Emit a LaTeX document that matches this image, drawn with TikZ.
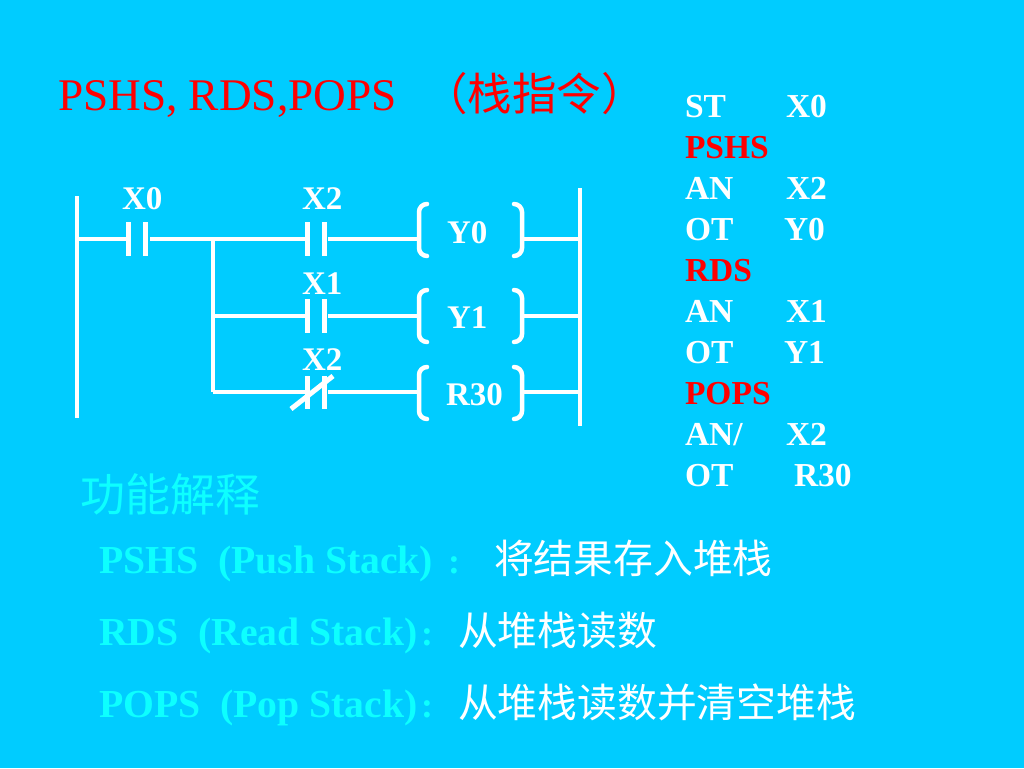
\documentclass[tikz,border=0pt]{standalone}
\usepackage{fontspec}
\setmainfont{Liberation Serif}
\newfontfamily\cjk{Noto Sans CJK SC}
\definecolor{bgblue}{HTML}{00CCFF}
\definecolor{lightcyan}{HTML}{0DFFFF}
\definecolor{wirewhite}{HTML}{FFFFFF}
\tikzset{
  txt/.style={anchor=base west,inner sep=0pt,outer sep=0pt},
  title/.style={txt,text=red,font=\fontsize{45.3}{45.3}\selectfont},
  titlecjk/.style={txt,text=red,font=\cjk\fontsize{44.5}{44.5}\selectfont},
  lab/.style={txt,text=white,font=\bfseries\fontsize{33}{33}\selectfont},
  code/.style={txt,text=white,font=\bfseries\fontsize{33.5}{33.5}\selectfont},
  codered/.style={code,text=red},
  expl/.style={txt,text=lightcyan,font=\bfseries\fontsize{39.7}{39.7}\selectfont},
  explcolon/.style={anchor=base,inner sep=0pt,text=lightcyan,font=\bfseries\fontsize{36}{36}\selectfont},
  zh/.style={txt,text=white,font=\cjk\fontsize{39.8}{39.8}\selectfont},
  zhhead/.style={txt,text=lightcyan,font=\cjk\fontsize{45}{45}\selectfont},
  wire/.style={draw=wirewhite,line width=4.5pt},
  plate/.style={draw=wirewhite,line width=5pt},
  rail/.style={draw=wirewhite,line width=4.5pt},
  coil/.style={draw=wirewhite,line width=4.5pt,rounded corners=8pt,line cap=round},
}
\begin{document}
\begin{tikzpicture}[x=1pt,y=-1pt]
\useasboundingbox (0,0) rectangle (1024,768);
\fill[bgblue] (0,0) rectangle (1024,768);

% texts
\node[title] (t1) at (58,110) {PSHS, RDS,POPS};
\node[titlecjk] (t2) at (423,110) {（栈指令）};

\node[lab] (lx0) at (122,209) {X0};
\node[lab] (lx2a) at (302,209) {X2};
\node[lab] (lx1) at (302,294) {X1};
\node[lab] (lx2b) at (302,370) {X2};
\node[lab] (ly0) at (447,243) {Y0};
\node[lab] (ly1) at (447,328) {Y1};
\node[lab] (lr30) at (446,405) {R30};

% code listing
\node[code] (c1a) at (685,117) {ST};   \node[code] (c1b) at (786,117) {X0};
\node[codered] (c2a) at (685,158) {PSHS};
\node[code] (c3a) at (685,199) {AN};   \node[code] (c3b) at (786,199) {X2};
\node[code] (c4a) at (685,240) {OT};   \node[code] (c4b) at (784,240) {Y0};
\node[codered] (c5a) at (685,281) {RDS};
\node[code] (c6a) at (685,322) {AN};   \node[code] (c6b) at (786,322) {X1};
\node[code] (c7a) at (685,363) {OT};   \node[code] (c7b) at (784,363) {Y1};
\node[codered] (c8a) at (685,404) {POPS};
\node[code] (c9a) at (685,445) {AN/};  \node[code] (c9b) at (786,445) {X2};
\node[code] (c10a) at (685,486) {OT};  \node[code] (c10b) at (794,486) {R30};

% explanation
\node[zhhead] (h) at (80,511) {功能解释};
\node[expl] (e1) at (99,573) {PSHS\ \ (Push Stack)};
\node[explcolon] (e1c) at (454,573) {:};
\node[zh] (z1) at (494,573) {将结果存入堆栈};
\node[expl] (e2) at (99,645) {RDS\ \ (Read Stack)};
\node[explcolon] (e2c) at (427,645) {:};
\node[zh] (z2) at (458,645) {从堆栈读数};
\node[expl] (e3) at (99,717) {POPS\ \ (Pop Stack)};
\node[explcolon] (e3c) at (427,717) {:};
\node[zh] (z3) at (458,717) {从堆栈读数并清空堆栈};

% rails
\coordinate (lt) at (77,196);  \coordinate (lb) at (77,418);
\coordinate (rt) at (580,188); \coordinate (rb) at (580,426);
\draw[rail] (lt) -- (lb);
\draw[rail] (rt) -- (rb);

% rung anchor points
\coordinate (l1) at (77,239);
\coordinate (j1) at (213,239);
\coordinate (j2) at (213,316);
\coordinate (j3) at (213,392);
\coordinate (r1) at (580,239);
\coordinate (r2) at (580,316);
\coordinate (r3) at (580,392);

% contacts
\coordinate (ax0t) at (128,222); \coordinate (ax0b) at (128,256);
\coordinate (bx0t) at (145,222); \coordinate (bx0b) at (145,256);
\coordinate (ax0w) at (128,239); \coordinate (bx0w) at (150,239);
\coordinate (a1t) at (307,222); \coordinate (a1b) at (307,256);
\coordinate (b1t) at (324,222); \coordinate (b1b) at (324,256);
\coordinate (a1w) at (307,239); \coordinate (b1w) at (328,239);
\coordinate (a2t) at (307,299); \coordinate (a2b) at (307,333);
\coordinate (b2t) at (324,299); \coordinate (b2b) at (324,333);
\coordinate (a2w) at (307,316); \coordinate (b2w) at (328,316);
\coordinate (a3t) at (307,376); \coordinate (a3b) at (307,409);
\coordinate (b3t) at (324,376); \coordinate (b3b) at (324,409);
\coordinate (a3w) at (307,392); \coordinate (b3w) at (328,392);
\coordinate (s1) at (291,409); \coordinate (s2) at (333,376);
\draw[plate] (ax0t) -- (ax0b);
\draw[plate] (bx0t) -- (bx0b);
\draw[plate] (a1t) -- (a1b);
\draw[plate] (b1t) -- (b1b);
\draw[plate] (a2t) -- (a2b);
\draw[plate] (b2t) -- (b2b);
\draw[plate] (a3t) -- (a3b);
\draw[plate] (b3t) -- (b3b);
\draw[plate] (s1) -- (s2);

% coil brackets
\coordinate (p1lw) at (418,239); \coordinate (p1rw) at (522,239);
\coordinate (p2lw) at (418,316); \coordinate (p2rw) at (522,316);
\coordinate (p3lw) at (418,392); \coordinate (p3rw) at (522,392);
\draw[coil] (427,204) -- (419,204) -- (419,256) -- (427,256);
\draw[coil] (514,204) -- (522,204) -- (522,256) -- (514,256);
\draw[coil] (427,290) -- (419,290) -- (419,342) -- (427,342);
\draw[coil] (514,290) -- (522,290) -- (522,342) -- (514,342);
\draw[coil] (427,367) -- (419,367) -- (419,419) -- (427,419);
\draw[coil] (514,367) -- (522,367) -- (522,419) -- (514,419);

% wires
\draw[wire] (l1) -- (ax0w);
\draw[wire] (bx0w) -- (a1w);
\draw[wire] (b1w) -- (p1lw);
\draw[wire] (p1rw) -- (r1);
\draw[wire,line cap=square] (j1) -- (j3);
\draw[wire] (j2) -- (a2w);
\draw[wire] (b2w) -- (p2lw);
\draw[wire] (p2rw) -- (r2);
\draw[wire] (j3) -- (a3w);
\draw[wire] (b3w) -- (p3lw);
\draw[wire] (p3rw) -- (r3);
\end{tikzpicture}
\end{document}
